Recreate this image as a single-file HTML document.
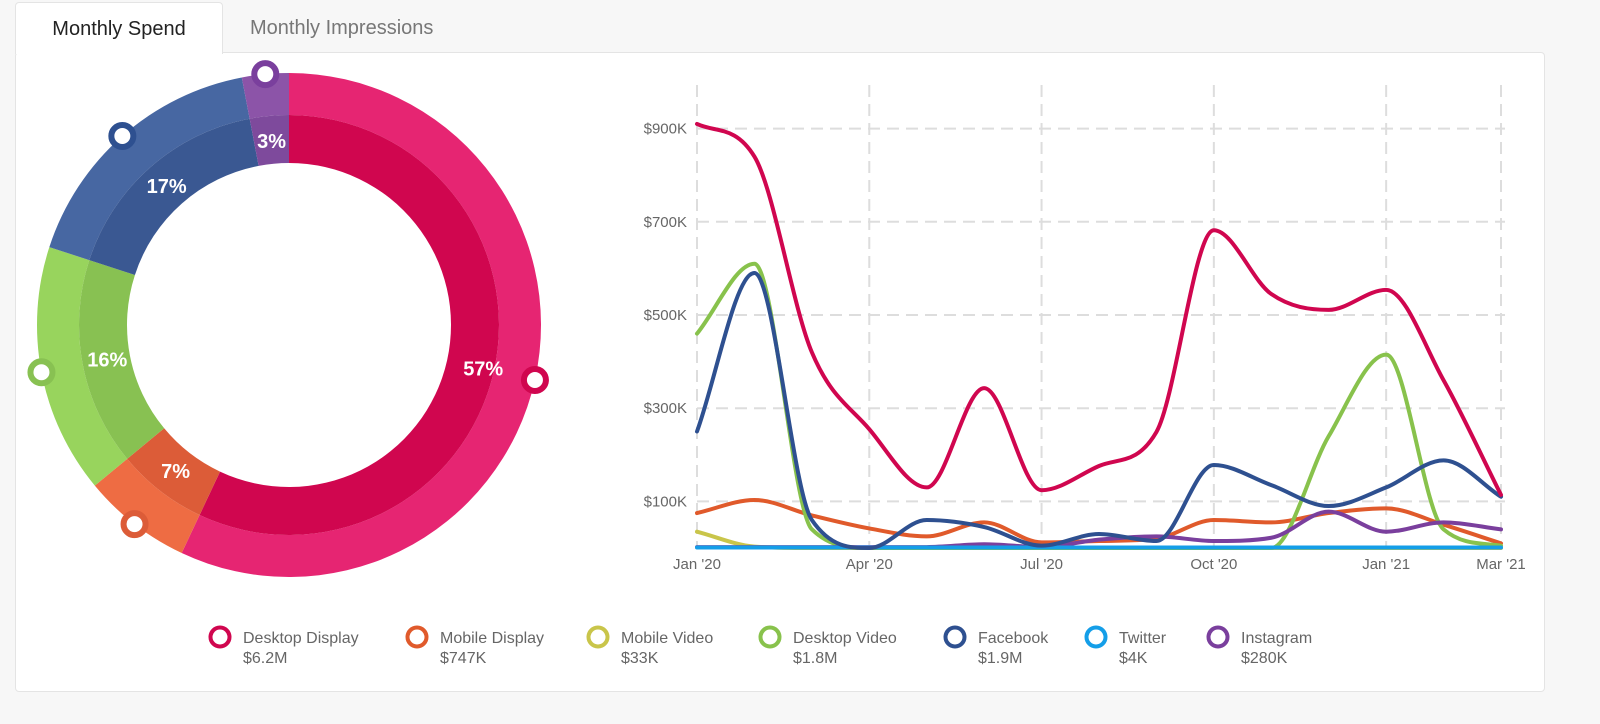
<!DOCTYPE html>
<html><head><meta charset="utf-8">
<style>
html,body{margin:0;padding:0;background:#f7f7f7;width:1600px;height:724px;overflow:hidden;font-family:"Liberation Sans",sans-serif}
.tab{position:absolute;top:2px;height:50px;font-size:20px;line-height:52px;box-sizing:border-box}
#card{position:absolute;left:15px;top:52px;width:1530px;height:640px;background:#fff;border:1px solid #e4e4e4;border-radius:4px;box-sizing:border-box}
svg text{font-family:"Liberation Sans",sans-serif}
</style></head><body>
<div class="tab" style="left:15px;width:208px;background:#fff;border:1px solid #e4e4e4;border-bottom:none;border-radius:4px 4px 0 0;color:#222;text-align:center;z-index:2;height:52px">Monthly Spend</div>
<div class="tab" style="left:250px;color:#777">Monthly Impressions</div>
<div id="card"></div>
<svg id="svg" width="1600" height="724" style="position:absolute;left:0;top:0;z-index:3"></svg>
<script>
const seriesNames=["Desktop Display","Mobile Display","Mobile Video","Desktop Video","Facebook","Twitter","Instagram"];
const seriesTotals=["$6.2M","$747K","$33K","$1.8M","$1.9M","$4K","$280K"];
const donutNames=["Desktop Display","Mobile Display","Desktop Video","Facebook","Instagram"];
const donutPct=[57,7,16,17,3];
const months=["Jan '20","Feb '20","Mar '20","Apr '20","May '20","Jun '20","Jul '20","Aug '20","Sep '20","Oct '20","Nov '20","Dec '20","Jan '21","Feb '21","Mar '21"];
const xTickIdx=[0,3,6,9,12,14];
const xTickLabels=["Jan '20","Apr '20","Jul '20","Oct '20","Jan '21","Mar '21"];
const yTicks=[100,300,500,700,900];
const desktopDisplay=[910,840,420,255,130,343,124,176,249,682,545,511,554,360,114];
const mobileDisplay=[75,103,70,42,25,55,12,15,20,60,55,75,85,50,10];
const mobileVideo=[35,3,0,0,0,0,0,0,0,0,0,0,0,0,0];
const desktopVideo=[460,610,40,0,0,0,0,0,0,0,0,240,415,40,5];
const facebook=[250,590,60,0,60,45,5,30,15,178,135,90,130,188,110];
const twitter=[1,1,1,1,1,1,1,1,1,1,1,1,1,1,1];
const instagram=[2,2,2,2,2,8,2,18,25,15,22,78,35,55,40];

const ns="http://www.w3.org/2000/svg";
const svg=document.getElementById('svg');
function mk(t,a,p){const e=document.createElementNS(ns,t);for(const k in a)e.setAttribute(k,a[k]);(p||svg).appendChild(e);return e;}
const lineColors=["#d0064f","#e05a2b","#c9c54a","#88c24c","#2e5090","#149ee8","#7a3f9d"];

const cx=289,cy=325,R=252,Rm=210,Ri=162;
const outerC=["#e62572","#ee6c43","#98d45d","#4767a2","#8c54a8"];
const innerC=["#d0064f","#dc5c38","#88c152","#3a5892","#7e4a9c"];
const markC=["#d0064f","#dc5c38","#88c152","#2e5090","#7a3f9d"];
function pt(r,a){return [cx+r*Math.sin(a),cy-r*Math.cos(a)];}
function arc(r0,r1,a0,a1){const L=(a1-a0)>Math.PI?1:0;const p0=pt(r1,a0),p1=pt(r1,a1),p2=pt(r0,a1),p3=pt(r0,a0);
return `M${p0}A${r1},${r1} 0 ${L} 1 ${p1}L${p2}A${r0},${r0} 0 ${L} 0 ${p3}Z`;}
let acc=0;const tot=donutPct.reduce((a,b)=>a+b,0);
donutPct.forEach((v,i)=>{const a0=acc/tot*2*Math.PI;acc+=v;const a1=acc/tot*2*Math.PI;const g=mk('g',{});


mk('path',{d:arc(Rm,R,a0,a1),fill:outerC[i]},g);
mk('path',{d:arc(Ri,Rm,a0,a1),fill:innerC[i]},g);
const am=(a0+a1)/2;const lp=pt(i==0?199:185,am);
const t=mk('text',{x:lp[0],y:lp[1]+7,'text-anchor':'middle','font-size':20,'font-weight':'bold',fill:'#fff'},g);t.textContent=v+'%';
const mp=pt(R,am);mk('circle',{cx:mp[0],cy:mp[1],r:11,fill:'#fff',stroke:markC[i],'stroke-width':6},g);
});

const x0=697,x1=1501,yb=548,yk=0.466;
const X=i=>x0+(x1-x0)*i/14, Y=v=>yb-v*yk;
const grid=mk('g',{});
yTicks.forEach(v=>{mk('line',{x1:x0,x2:x1+4,y1:Y(v),y2:Y(v),stroke:'#ddd','stroke-width':2,'stroke-dasharray':'12,7'},grid);
const t=mk('text',{x:687,y:Y(v)+5,'text-anchor':'end','font-size':15,fill:'#666'});t.textContent='$'+v+'K';
});
xTickIdx.forEach((i,k)=>{mk('line',{x1:X(i),x2:X(i),y1:85,y2:yb,stroke:'#ddd','stroke-width':2,'stroke-dasharray':'12,7'},grid);
const t=mk('text',{x:X(i),y:569,'text-anchor':'middle','font-size':15,fill:'#666'});t.textContent=xTickLabels[k];
});
function mono(xs,ys){const n=xs.length,d=[],m=[];for(let i=0;i<n-1;i++)d.push((ys[i+1]-ys[i])/(xs[i+1]-xs[i]));
m[0]=d[0];m[n-1]=d[n-2];for(let i=1;i<n-1;i++){m[i]=d[i-1]*d[i]<=0?0:(d[i-1]+d[i])/2;}
for(let i=0;i<n-1;i++){if(d[i]==0){m[i]=0;m[i+1]=0;continue;}const a=m[i]/d[i],b=m[i+1]/d[i],s=a*a+b*b;if(s>9){const t=3/Math.sqrt(s);m[i]=t*a*d[i];m[i+1]=t*b*d[i];}}
let p=`M${xs[0]},${ys[0]}`;for(let i=0;i<n-1;i++){const h=(xs[i+1]-xs[i])/3;p+=`C${xs[i]+h},${ys[i]+m[i]*h} ${xs[i+1]-h},${ys[i+1]-m[i+1]*h} ${xs[i+1]},${ys[i+1]}`;}return p;}
const all=[desktopDisplay,mobileDisplay,mobileVideo,desktopVideo,facebook,twitter,instagram];
const order=[2,1,3,6,5,4,0];
order.forEach(s=>{const xs=all[s].map((v,i)=>X(i)),ys=all[s].map(v=>Y(v));
const p=mk('path',{d:mono(xs,ys),fill:'none',stroke:lineColors[s],'stroke-width':4,'stroke-linejoin':'round','stroke-linecap':'round'});

});

const legX=[220,417,598,770,955,1096,1218];
seriesNames.forEach((n,i)=>{const g=mk('g',{});


mk('circle',{cx:legX[i],cy:637,r:9.5,fill:'#fff',stroke:lineColors[i],'stroke-width':4},g);
const t=mk('text',{x:legX[i]+23,y:643,'font-size':16,fill:'#666'},g);t.textContent=n;
const t2=mk('text',{x:legX[i]+23,y:663,'font-size':16,fill:'#666'},g);t2.textContent=seriesTotals[i];});
</script>
</body></html>
